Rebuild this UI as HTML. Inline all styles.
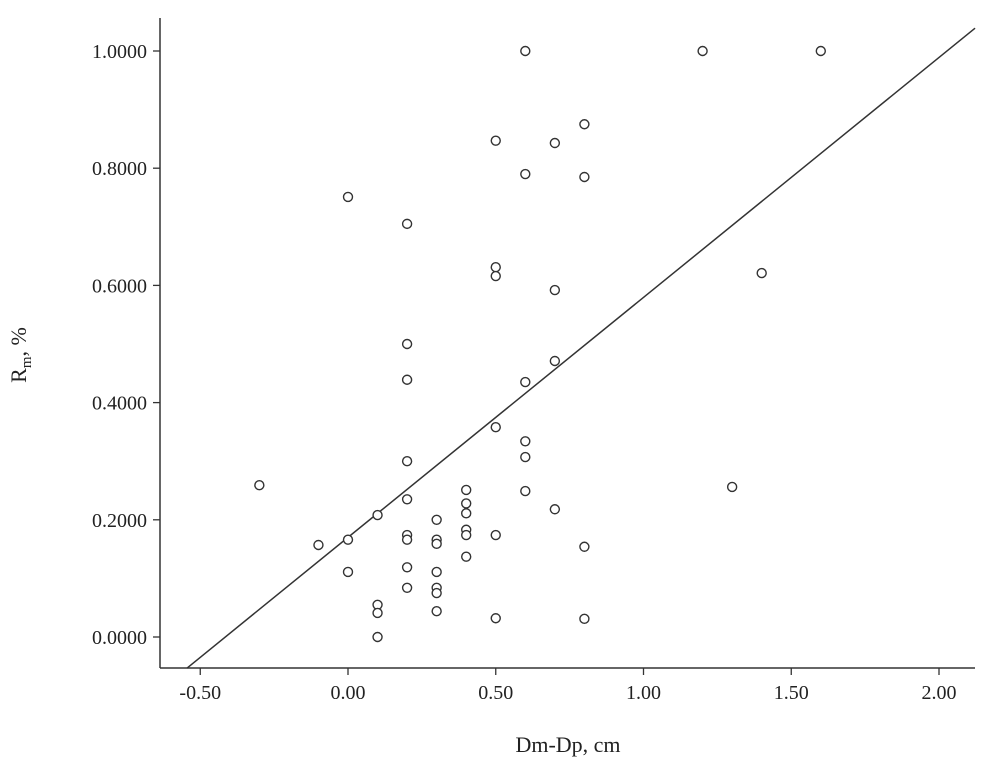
<!DOCTYPE html>
<html><head><meta charset="utf-8"><style>
html,body{margin:0;padding:0;background:#fff;}
svg{display:block;font-family:"Liberation Serif",serif;}
</style></head><body>
<svg id="chart" width="1000" height="758" viewBox="0 0 1000 758" xmlns="http://www.w3.org/2000/svg">
<g id="axes"></g>
<g id="marks"></g>
<text x="568" y="752" font-size="22" text-anchor="middle" fill="#222">Dm-Dp, cm</text>
<text transform="translate(26,355) rotate(-90)" font-size="22" text-anchor="middle" fill="#222">R<tspan font-size="15" dy="5">m</tspan><tspan dy="-5">, %</tspan></text>
</svg>
<script>
const xs = [0.6,1.2,1.6,0.8,0.5,0.7,0.6,0.8,0.0,0.2,0.5,0.5,1.4,0.7,0.2,0.7,0.2,0.6,0.5,0.6,0.6,0.2,-0.3,1.3,0.4,0.6,0.2,0.4,0.4,0.1,0.7,0.3,0.4,0.4,0.2,0.5,0.2,0.0,0.3,0.3,-0.1,0.8,0.4,0.2,0.0,0.3,0.2,0.3,0.3,0.1,0.1,0.3,0.5,0.8,0.1];
const ys = [1.0,1.0,1.0,0.875,0.847,0.843,0.79,0.785,0.751,0.705,0.631,0.616,0.621,0.592,0.5,0.471,0.439,0.435,0.358,0.334,0.307,0.3,0.259,0.256,0.251,0.249,0.235,0.228,0.211,0.208,0.218,0.2,0.183,0.174,0.174,0.174,0.166,0.166,0.166,0.159,0.157,0.154,0.137,0.119,0.111,0.111,0.084,0.084,0.075,0.055,0.041,0.044,0.032,0.031,0.0];
const xTicks = [-0.5,0,0.5,1.0,1.5,2.0];
const xTickLabels = ["-0.50","0.00","0.50","1.00","1.50","2.00"];
const yTicks = [0,0.2,0.4,0.6,0.8,1.0];
const yTickLabels = ["0.0000","0.2000","0.4000","0.6000","0.8000","1.0000"];
const fitSlope = 0.4095, fitIntercept = 0.170;
const fitRange = [-0.545, 2.122];

const X = v => 348 + v * 295.5;
const Y = v => 637 - v * 586;
const NS = "http://www.w3.org/2000/svg";
const axes = document.getElementById('axes'), marks = document.getElementById('marks');
function mk(tag, attrs, parent){const e=document.createElementNS(NS,tag);for(const k in attrs)e.setAttribute(k,attrs[k]);parent.appendChild(e);return e;}

const ya = mk('line',{x1:160,y1:18,x2:160,y2:668,stroke:'#333','stroke-width':1.5},axes);


const xa = mk('line',{x1:160,y1:668,x2:975,y2:668,stroke:'#333','stroke-width':1.5},axes);



xTicks.forEach((t,i)=>{
  const tk = mk('line',{x1:X(t),y1:668,x2:X(t),y2:675,stroke:'#333','stroke-width':1.3},axes);
  
  
  const tx = mk('text',{x:X(t),y:699,'font-size':20,'text-anchor':'middle',fill:'#222'},axes);
  tx.textContent = xTickLabels[i];
  
  
});
yTicks.forEach((t,i)=>{
  const tk = mk('line',{x1:153,y1:Y(t),x2:160,y2:Y(t),stroke:'#333','stroke-width':1.3},axes);
  
  
  const tx = mk('text',{x:147,y:Y(t)+7,'font-size':20,'text-anchor':'end',fill:'#222'},axes);
  tx.textContent = yTickLabels[i];
  
  
});

const fit = mk('line',{x1:X(fitRange[0]),y1:Y(fitSlope*fitRange[0]+fitIntercept),x2:X(fitRange[1]),y2:Y(fitSlope*fitRange[1]+fitIntercept),stroke:'#333','stroke-width':1.5},marks);



xs.forEach((v,i)=>{
  const c = mk('circle',{cx:X(v),cy:Y(ys[i]),r:4.5,fill:'#fff',stroke:'#333','stroke-width':1.4},marks);
  
  
});
</script>
</body></html>
